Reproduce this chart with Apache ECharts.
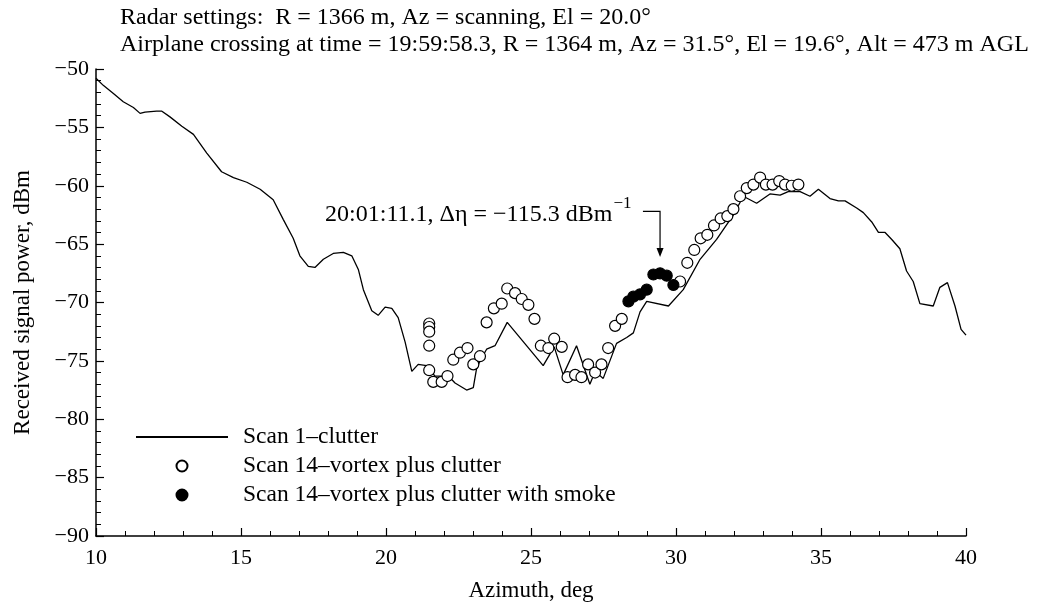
<!DOCTYPE html>
<html>
<head>
<meta charset="utf-8">
<script src="https://cdn.jsdelivr.net/npm/echarts@6/dist/echarts.min.js"></script>
<style>
html,body{margin:0;padding:0;background:#fff;}
#chart{width:1042px;height:607px;}
</style>
</head>
<body>
<div id="chart"></div>
<script>
// ---- Data ----
const titleLines = [
  'Radar settings:  R = 1366 m, Az = scanning, El = 20.0°',
  'Airplane crossing at time = 19:59:58.3, R = 1364 m, Az = 31.5°, El = 19.6°, Alt = 473 m AGL'
];
const seriesNames = ['Scan 1–clutter', 'Scan 14–vortex plus clutter', 'Scan 14–vortex plus clutter with smoke'];

// Scan 1 - clutter (line)
const clutterAz = [10.0,10.25,10.6,10.94,11.29,11.52,11.69,12.09,12.26,12.55,12.96,13.36,13.82,14.33,14.74,15.2,15.66,16.11,16.46,16.8,17.03,17.32,17.55,17.84,18.18,18.53,18.82,19.05,19.22,19.51,19.73,19.97,20.2,20.42,20.66,20.89,21.11,21.4,21.69,22.15,22.38,22.78,23.01,23.12,23.24,23.47,23.76,24.18,25.42,25.8,26.11,26.57,27.03,27.21,27.49,27.95,28.3,28.53,28.76,28.99,29.74,30.25,30.83,31.4,31.98,32.32,32.78,33.24,33.59,33.87,34.28,34.62,34.91,35.31,35.6,35.83,36.23,36.46,36.75,36.98,37.21,37.44,37.72,37.95,38.18,38.41,38.87,39.1,39.36,39.62,39.83,40.0];
const clutterDb = [-50.8,-51.4,-52.1,-52.8,-53.3,-53.8,-53.7,-53.6,-53.6,-54.1,-54.9,-55.6,-57.2,-58.8,-59.3,-59.7,-60.3,-61.2,-62.9,-64.5,-66.0,-66.9,-67.0,-66.3,-65.8,-65.7,-66.0,-67.2,-68.9,-70.7,-71.1,-70.4,-70.5,-71.3,-73.4,-75.9,-75.3,-75.4,-76.3,-76.3,-76.9,-77.5,-77.3,-75.7,-75.0,-74.0,-73.7,-71.7,-75.4,-73.8,-76.2,-73.7,-77.0,-75.9,-76.5,-73.5,-73.0,-72.6,-70.8,-69.9,-70.3,-68.9,-66.3,-64.6,-62.5,-60.9,-61.5,-60.7,-60.8,-60.5,-60.5,-60.9,-60.3,-61.1,-61.3,-61.3,-61.9,-62.3,-63.1,-64.0,-64.0,-64.6,-65.4,-67.3,-68.2,-70.1,-70.3,-68.7,-68.3,-70.3,-72.3,-72.8];

// Scan 14 - vortex plus clutter (open circles)
const vortexAz = [21.49,21.49,21.49,21.49,21.49,21.63,21.92,22.12,22.32,22.55,22.81,23.01,23.24,23.47,23.72,23.99,24.18,24.45,24.68,24.91,25.12,25.34,25.6,25.8,26.06,26.26,26.52,26.74,26.97,27.21,27.43,27.66,27.9,28.13,30.14,30.39,30.63,30.85,31.08,31.31,31.54,31.77,31.98,32.21,32.44,32.67,32.9,33.1,33.33,33.56,33.76,33.99,34.22];
const vortexDb = [-71.8,-72.1,-72.5,-73.7,-75.8,-76.8,-76.8,-76.3,-74.9,-74.3,-73.9,-75.3,-74.6,-71.7,-70.5,-70.1,-68.8,-69.2,-69.7,-70.2,-71.4,-73.7,-73.9,-73.1,-73.8,-76.4,-76.2,-76.4,-75.3,-76.0,-75.3,-73.9,-72.0,-71.4,-68.2,-66.6,-65.5,-64.5,-64.2,-63.4,-62.8,-62.6,-62.0,-60.9,-60.2,-59.9,-59.3,-59.9,-59.9,-59.6,-59.9,-60.0,-59.9];

// Scan 14 - vortex plus clutter with smoke (filled circles)
const smokeAz = [28.36,28.53,28.76,28.99,29.22,29.45,29.68,29.91];
const smokeDb = [-69.9,-69.5,-69.3,-68.9,-67.6,-67.5,-67.7,-68.5];

// Axis ticks
const xMin = 10, xMax = 40, xStep = 5;
const yMin = -90, yMax = -50, yStep = 5;

// Annotation (data coordinates)
const noteText = '20:01:11.1, Δη = −115.3 dBm';
const noteSup = '−1';
const noteAnchor = [17.9, -62.2];
const arrowTop = [29.45, -62.2];
const arrowTip = [29.45, -66.1];
const arrowLeft = 28.86;

const pairs = (a, b) => a.map((v, i) => [v, b[i]]);
const fmt = v => (v < 0 ? '−' + Math.abs(v) : String(v));
const FONT = '"Liberation Serif", "DejaVu Serif", serif';

const chart = echarts.init(document.getElementById('chart'), null, {renderer: 'canvas'});
const axisCommon = {
  axisLine: {show: true, onZero: false, lineStyle: {color: '#000', width: 1.5}},
  axisTick: {show: true, inside: true, length: 8, lineStyle: {color: '#000', width: 1.2}},
  minorTick: {show: true, splitNumber: 5, length: 5, lineStyle: {color: '#000', width: 1}},
  splitLine: {show: false},
  minorSplitLine: {show: false},
  axisLabel: {color: '#000', fontFamily: FONT, fontSize: 22, formatter: fmt},
  nameTextStyle: {color: '#000', fontFamily: FONT, fontSize: 23}
};
chart.setOption({
  animation: false,
  backgroundColor: '#fff',
  textStyle: {fontFamily: FONT},
  title: {
    text: titleLines.join('\n'),
    left: 120, top: 4, padding: 0,
    textStyle: {color: '#000', fontFamily: FONT, fontSize: 24, fontWeight: 'normal', lineHeight: 27}
  },
  grid: {left: 96, right: 76, top: 69, bottom: 70, containLabel: false},
  xAxis: Object.assign({}, axisCommon, {
    type: 'value', min: xMin, max: xMax, interval: xStep,
    name: 'Azimuth, deg', nameLocation: 'middle', nameGap: 43,
    axisLabel: Object.assign({}, axisCommon.axisLabel, {margin: 11})
  }),
  yAxis: Object.assign({}, axisCommon, {
    type: 'value', min: yMin, max: yMax, interval: yStep,
    name: 'Received signal power, dBm', nameLocation: 'middle', nameGap: 62, nameRotate: 90,
    axisLabel: Object.assign({}, axisCommon.axisLabel, {margin: 7})
  }),
  legend: {
    orient: 'vertical', left: 135, top: 425, padding: 0,
    itemWidth: 92, itemHeight: 11, itemGap: 5,
    textStyle: {color: '#000', fontFamily: FONT, fontSize: 23.5, lineHeight: 21, padding: [0, 0, 0, 10]},
    data: [
      {name: seriesNames[0], itemStyle: {opacity: 0}},
      {name: seriesNames[1], icon: 'circle'},
      {name: seriesNames[2], icon: 'circle'}
    ]
  },
  series: [
    {
      name: seriesNames[0], type: 'line', data: pairs(clutterAz, clutterDb),
      symbol: 'none', showSymbol: false, smooth: false,
      lineStyle: {color: '#000', width: 1.3}, itemStyle: {color: '#000'}, z: 2
    },
    {
      name: seriesNames[1], type: 'scatter', data: pairs(vortexAz, vortexDb),
      symbol: 'circle', symbolSize: 11,
      itemStyle: {color: '#fff', borderColor: '#000', borderWidth: 1.2, opacity: 1}, z: 3
    },
    {
      name: seriesNames[2], type: 'scatter', data: pairs(smokeAz, smokeDb),
      symbol: 'circle', symbolSize: 11,
      itemStyle: {color: '#000', borderColor: '#000', borderWidth: 1.2, opacity: 1}, z: 4
    }
  ]
});

// annotation placed through the chart's own coordinate conversion
const p = c => chart.convertToPixel({gridIndex: 0}, c);
const a0 = p(noteAnchor), aTop = p(arrowTop), aTip = p(arrowTip), aL = p([arrowLeft, arrowTop[1]]);
chart.setOption({
  graphic: [
    {
      type: 'text', left: a0[0], top: a0[1] - 16, silent: true,
      style: {
        text: '{m|' + noteText + '}{s|' + noteSup + '}',
        rich: {
          m: {fontFamily: FONT, fontSize: 24, fill: '#000', verticalAlign: 'bottom', height: 27},
          s: {fontFamily: FONT, fontSize: 17, fill: '#000', verticalAlign: 'top', height: 27, padding: [0, 0, 11, 1]}
        }
      }
    },
    {
      type: 'polyline', silent: true,
      shape: {points: [[aL[0], aL[1]], [aTop[0], aTop[1]], [aTip[0], aTip[1] - 6]]},
      style: {stroke: '#000', lineWidth: 1.2, fill: null}
    },
    {
      type: 'polygon', silent: true,
      shape: {points: [[aTip[0] - 3.5, aTip[1] - 9], [aTip[0] + 3.5, aTip[1] - 9], [aTip[0], aTip[1]]]},
      style: {fill: '#000'}
    }
  ]
});
</script>
</body>
</html>
